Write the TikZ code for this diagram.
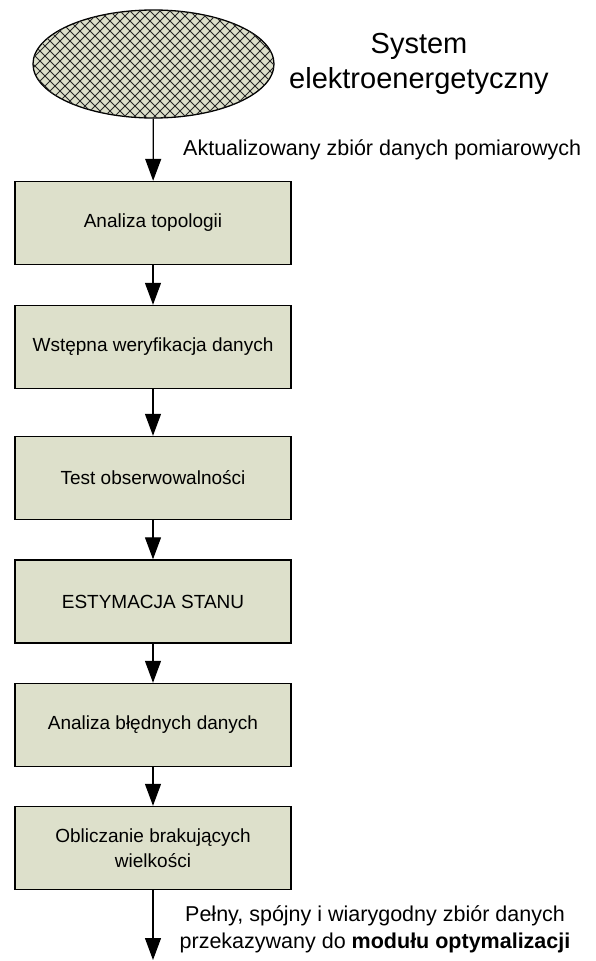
\documentclass[tikz,border=0pt]{standalone}
\usepackage{fontspec}
\setmainfont{Liberation Sans}
\usetikzlibrary{shapes.geometric,arrows.meta,patterns}

\definecolor{boxfill}{HTML}{DDE0CB}

% diagonal cross-hatching for the power-system ellipse
\pgfdeclarepatternformonly{xhatch}{\pgfqpoint{-1pt}{-1pt}}{\pgfqpoint{11pt}{11pt}}{\pgfqpoint{10pt}{10pt}}{%
  \pgfsetlinewidth{0.8pt}%
  \pgfpathmoveto{\pgfqpoint{-0.1pt}{-0.1pt}}\pgfpathlineto{\pgfqpoint{10.1pt}{10.1pt}}%
  \pgfpathmoveto{\pgfqpoint{-0.1pt}{10.1pt}}\pgfpathlineto{\pgfqpoint{10.1pt}{-0.1pt}}%
  \pgfusepath{stroke}}

\tikzset{
  stepbox/.style={draw, line width=1.4pt, fill=boxfill, minimum width=276pt,
    minimum height=83pt, inner sep=0pt, align=center,
    font=\fontsize{19}{25}\selectfont},
  flow/.style={line width=1.2pt, -{Triangle[width=16pt,length=22pt]}},
  lbl/.style={inner sep=0pt, font=\fontsize{21.5}{27}\selectfont}
}

\begin{document}
\begin{tikzpicture}[x=1pt, y=-1pt]
  \useasboundingbox (0,0) rectangle (596,961);

  % source system
  \node[ellipse, draw, line width=1.3pt, fill=boxfill,
        postaction={pattern=xhatch, pattern color=black!85},
        minimum width=241pt, minimum height=108pt, inner sep=0pt] (sys) at (153.5,64) {};
  \node[inner sep=0pt, align=center, font=\fontsize{29}{35}\selectfont] (systitle) at (419,64)
    {System\\elektroenergetyczny};

  % processing chain
  \node[stepbox] (topo)  at (153,223)   {Analiza topologii};
  \node[stepbox] (weryf) at (153,347)   {Wstępna weryfikacja danych};
  \node[stepbox] (obs)   at (153,478)   {Test obserwowalności};
  \node[stepbox] (est)   at (153,601.5) {ESTYMACJA STANU};
  \node[stepbox] (bled)  at (153,725)   {Analiza błędnych danych};
  \node[stepbox] (obl)   at (153,848)   {Obliczanie brakujących\\wielkości};

  \coordinate (out) at (153,960);

  \draw[flow] (sys) -- (topo);
  \draw[flow] (topo) -- (weryf);
  \draw[flow] (weryf) -- (obs);
  \draw[flow] (obs) -- (est);
  \draw[flow] (est) -- (bled);
  \draw[flow] (bled) -- (obl);
  \draw[flow] (obl) -- (out);

  % data-flow labels
  \node[lbl, anchor=west] (inlbl) at (183,150) {Aktualizowany zbiór danych pomiarowych};
  \node[lbl, align=center] (outlbl) at (375,929)
    {Pełny, spójny i wiarygodny zbiór danych\\przekazywany do \textbf{modułu optymalizacji}};
\end{tikzpicture}
\end{document}
